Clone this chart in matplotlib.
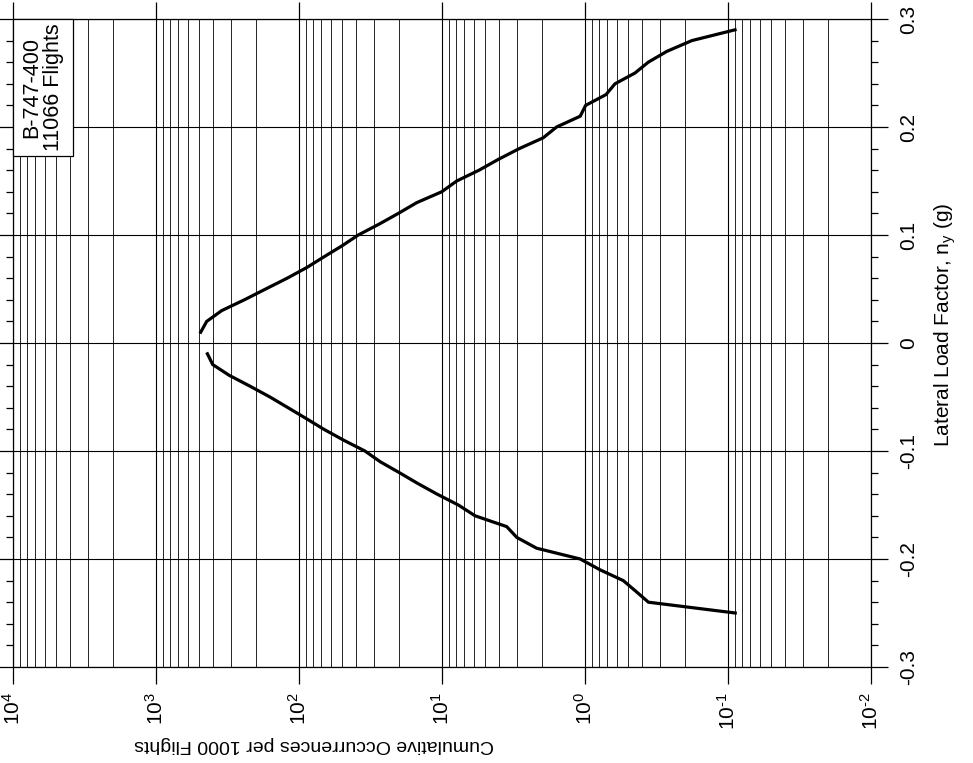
import math
import matplotlib
matplotlib.use("Agg")
import matplotlib.pyplot as plt
from matplotlib.ticker import FixedLocator, FuncFormatter, LogLocator, MultipleLocator, NullFormatter
from matplotlib.patches import Rectangle

plt.rcParams['font.family'] = ['Liberation Sans', 'DejaVu Sans']
plt.rcParams['mathtext.fontset'] = 'custom'
plt.rcParams['mathtext.rm'] = 'Liberation Sans'
plt.rcParams['mathtext.it'] = 'Liberation Sans:italic'
plt.rcParams['axes.unicode_minus'] = False

# ---- data ----
load_pos = [0.01, 0.02, 0.03, 0.04, 0.05, 0.06, 0.07, 0.08, 0.09, 0.10,
            0.11, 0.12, 0.13, 0.14, 0.15, 0.16, 0.17, 0.18, 0.19, 0.20,
            0.21, 0.22, 0.23, 0.24, 0.25, 0.26, 0.27, 0.28, 0.29]
occ_pos = [487, 442, 347, 241, 171, 121, 87.9, 66.5, 50, 38.5,
           27.6, 20.2, 15.0, 10.05, 7.89, 5.51, 4.04, 2.88, 1.96, 1.58,
           1.08, 0.99, 0.713, 0.617, 0.447, 0.361, 0.268, 0.179, 0.0893]
load_neg = [-0.01, -0.02, -0.03, -0.04, -0.05, -0.06, -0.07, -0.08, -0.09, -0.10,
            -0.11, -0.12, -0.13, -0.14, -0.15, -0.16, -0.17, -0.18, -0.19, -0.20,
            -0.21, -0.22, -0.23, -0.24, -0.25]
occ_neg = [437, 401, 307, 220, 159.6, 119, 88.9, 66.8, 48.7, 34.6,
           27.0, 19.9, 14.8, 10.8, 7.69, 5.87, 3.53, 3.00, 2.18, 1.08,
           0.785, 0.54, 0.44, 0.36, 0.089]
occ_decades = [1e4, 1e3, 1e2, 1e1, 1e0, 1e-1, 1e-2]
load_ticks = [-0.3, -0.2, -0.1, 0.0, 0.1, 0.2, 0.3]
load_tick_labels = ['-0.3', '-0.2', '-0.1', '0', '0.1', '0.2', '0.3']
annotation = "B-747-400\n11066 Flights"
xlabel = "Cumulative Occurrences per 1000 Flights"
ylabel = r"Lateral Load Factor, $\mathregular{n_y}$ (g)"


def decade_label(v, pos):
    e = int(round(math.log10(v)))
    if e < 0:
        return r'$\mathregular{10^{\text{-}%d}}$' % (-e)
    return r'$\mathregular{10^{%d}}$' % e


W, H = 973, 763
fig = plt.figure(figsize=(W / 100, H / 100), dpi=100)
L, R, T, B = 13, 871, 19, 667
ax = fig.add_axes([L / W, (H - B) / H, (R - L) / W, (B - T) / H])

ax.plot(occ_pos, load_pos, color='black', lw=2.3, solid_joinstyle='miter', zorder=4)
ax.plot(occ_neg, load_neg, color='black', lw=2.3, solid_joinstyle='miter', zorder=4)

ax.set_xscale('log')
ax.set_xlim(1e4, 1e-2)
ax.set_ylim(-0.3, 0.3)

ax.xaxis.set_major_locator(FixedLocator(occ_decades))
ax.xaxis.set_major_formatter(FuncFormatter(decade_label))
ax.xaxis.set_minor_locator(LogLocator(base=10, subs=[2, 3, 4, 5, 6, 7, 8, 9], numticks=20))
ax.xaxis.set_minor_formatter(NullFormatter())

ax.yaxis.set_major_locator(FixedLocator(load_ticks))
ax.set_yticklabels(load_tick_labels)
ax.yaxis.set_minor_locator(MultipleLocator(0.02))

ax.grid(which='major', axis='both', color='black', lw=0.8, zorder=1)
ax.grid(which='minor', axis='x', color='black', lw=0.6, zorder=1)
ax.set_axisbelow(True)

for s in ax.spines.values():
    s.set_linewidth(0.9)

ax.tick_params(axis='both', which='major', direction='out', length=12, width=0.9,
               top=True, bottom=True, left=True, right=True,
               labelleft=False, labelright=True, labelbottom=True, labeltop=False,
               labelsize=15)
ax.tick_params(axis='x', which='minor', length=0)
ax.tick_params(axis='y', which='minor', direction='out', length=5, width=0.9,
               left=True, right=True)
ax.tick_params(axis='x', which='major', labelrotation=90, pad=6)
ax.tick_params(axis='y', which='major', labelrotation=90, pad=8)
for t in ax.get_yticklabels():
    t.set_va('center')

ax.set_xlabel(xlabel, rotation=180, fontsize=14, va='center', ha='center')
ax.xaxis.set_label_coords((314 - L) / (R - L), (B - 745) / (B - T))
ax.yaxis.set_label_position('right')
ax.set_ylabel(ylabel, rotation=90, fontsize=15, va='center', ha='center')
ax.yaxis.set_label_coords((945 - L) / (R - L), (B - 325) / (B - T))

bx0, bx1, by0, by1 = 13, 73, 19, 156
rect = Rectangle(((bx0 - L) / (R - L), (B - by1) / (B - T)),
                 (bx1 - bx0) / (R - L), (by1 - by0) / (B - T),
                 transform=ax.transAxes, facecolor='white', edgecolor='black',
                 lw=0.9, zorder=5, clip_on=False)
ax.add_patch(rect)
ax.text(((bx0 + bx1) / 2 - L) / (R - L), (B - (by0 + by1) / 2) / (B - T), annotation,
        transform=ax.transAxes, rotation=90, ha='center', va='center',
        multialignment='center', fontsize=15.5, linespacing=1.05, zorder=6)

fig.savefig('out.png', dpi=100)
